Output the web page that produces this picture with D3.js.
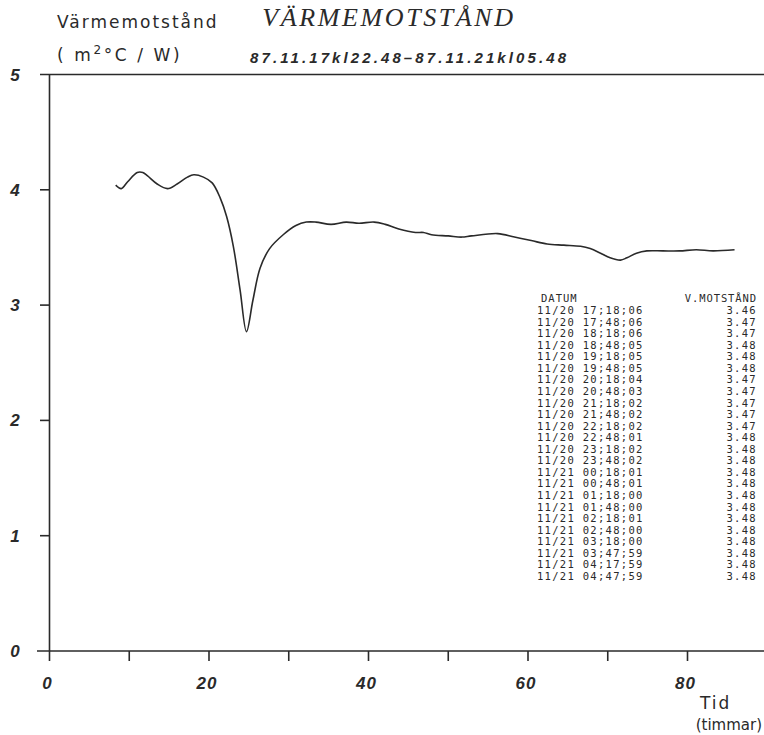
<!DOCTYPE html>
<html lang="sv">
<head>
<meta charset="UTF-8">
<title>Värmemotstånd</title>
<script src="https://d3js.org/d3.v7.min.js"></script>
<style>
    body, html { margin: 0; padding: 0; background: #fff; }
    svg { display: block; }
</style>
</head>
<body>
<div id="chart"></div>
<script>
// mätserie: tid (timmar) och värmemotstånd (m2C/W), avläst från kurvan
const hours = [8.3, 9.0, 9.8, 11.0, 11.7, 12.3, 13.5, 14.8, 16.0, 17.3, 18.1, 19.3, 20.4, 21.4, 22.2, 23.05, 23.9, 24.7,
    25.5, 26.4, 27.6, 29.3, 30.9, 32.2, 33.4, 35.3, 37.2, 38.8, 40.7, 42.1, 43.8, 45.9, 46.9, 47.9, 50.0, 51.7, 52.9,
    56.2, 58.3, 60.4, 62.4, 64.5, 66.6, 67.8, 69.1, 70.3, 71.6, 72.4, 73.6, 74.9, 76.9, 79.0, 81.1, 83.2, 85.9];
const resistance = [4.04, 4.01, 4.07, 4.15, 4.15, 4.12, 4.05, 4.01, 4.05, 4.11, 4.13, 4.11, 4.06, 3.93, 3.77, 3.51, 3.13, 2.77,
    3.04, 3.32, 3.49, 3.61, 3.69, 3.72, 3.72, 3.70, 3.72, 3.71, 3.72, 3.70, 3.66, 3.63, 3.63, 3.61, 3.60, 3.59, 3.60,
    3.62, 3.59, 3.56, 3.53, 3.52, 3.51, 3.49, 3.45, 3.41, 3.39, 3.41, 3.45, 3.47, 3.47, 3.47, 3.48, 3.47, 3.48];

// utskriven tabell
const datum = ["11/20 17;18;06", "11/20 17;48;06", "11/20 18;18;06", "11/20 18;48;05", "11/20 19;18;05",
    "11/20 19;48;05", "11/20 20;18;04", "11/20 20;48;03", "11/20 21;18;02", "11/20 21;48;02", "11/20 22;18;02",
    "11/20 22;48;01", "11/20 23;18;02", "11/20 23;48;02", "11/21 00;18;01", "11/21 00;48;01", "11/21 01;18;00",
    "11/21 01;48;00", "11/21 02;18;01", "11/21 02;48;00", "11/21 03;18;00", "11/21 03;47;59", "11/21 04;17;59",
    "11/21 04;47;59"];
const motstand = ["3.46", "3.47", "3.47", "3.48", "3.48", "3.48", "3.47", "3.47", "3.47", "3.47", "3.47",
    "3.48", "3.48", "3.48", "3.48", "3.48", "3.48", "3.48", "3.48", "3.48", "3.48", "3.48", "3.48", "3.48"];

const xTicks = d3.range(0, 100, 10);
const xLabels = [0, 20, 40, 60, 80];
const yTicks = [0, 1, 2, 3, 4, 5];

const width = 764, height = 735;
const ink = "#2a2a2a";

const svg = d3.select("#chart").append("svg")
    .attr("width", width)
    .attr("height", height);

const x = d3.scaleLinear().domain([0, 100]).range([49.5, 847]);
const y = d3.scaleLinear().domain([0, 5]).range([651, 74.5]);

// axlar
const axes = svg.append("g").attr("stroke", ink).attr("stroke-width", 1.6).attr("fill", "none");
axes.append("line").attr("x1", 37).attr("x2", width).attr("y1", y(0)).attr("y2", y(0));
axes.append("line").attr("x1", 40).attr("x2", width).attr("y1", y(5)).attr("y2", y(5));
axes.append("line").attr("x1", x(0)).attr("x2", x(0)).attr("y1", y(5)).attr("y2", y(0) + 10);

axes.selectAll(".xt").data(xTicks.filter(d => d > 0)).join("line")
    .attr("x1", d => x(d)).attr("x2", d => x(d))
    .attr("y1", y(0)).attr("y2", y(0) + 10);
axes.selectAll(".yt").data(yTicks.filter(d => d > 0 && d < 5)).join("line")
    .attr("x1", 40).attr("x2", x(0))
    .attr("y1", d => y(d)).attr("y2", d => y(d));

const tickFont = "'Liberation Sans', Arial, sans-serif";
svg.append("g").selectAll("text").data(yTicks).join("text")
    .attr("x", 15).attr("y", d => y(d) + 6)
    .attr("text-anchor", "middle")
    .attr("font-family", tickFont).attr("font-style", "italic").attr("font-weight", "bold")
    .attr("font-size", 17).attr("fill", ink)
    .text(d => d);

svg.append("g").selectAll("text").data(xLabels).join("text")
    .attr("x", d => x(d) - 2).attr("y", y(0) + 38)
    .attr("text-anchor", "middle")
    .attr("font-family", tickFont).attr("font-style", "italic").attr("font-weight", "bold")
    .attr("font-size", 17).attr("letter-spacing", 1).attr("fill", ink)
    .text(d => d);

// kurvan
const line = d3.line()
    .x((d, i) => x(hours[i]))
    .y(d => y(d))
    .curve(d3.curveCatmullRom.alpha(0.5));

svg.append("path")
    .datum(resistance)
    .attr("d", line)
    .attr("fill", "none")
    .attr("stroke", ink)
    .attr("stroke-width", 1.6);

// titlar
const plotFont = "'DejaVu Sans', sans-serif";
svg.append("text")
    .attr("x", 389).attr("y", 26)
    .attr("text-anchor", "middle")
    .attr("font-family", "'Liberation Serif', 'DejaVu Serif', serif")
    .attr("font-style", "italic").attr("font-size", 26)
    .attr("letter-spacing", 2.6).attr("fill", ink)
    .text("VÄRMEMOTSTÅND");

svg.append("text")
    .attr("x", 57).attr("y", 28)
    .attr("font-family", plotFont).attr("font-size", 17)
    .attr("letter-spacing", 2).attr("fill", ink)
    .text("Värmemotstånd");

const unit = svg.append("text")
    .attr("x", 57).attr("y", 61)
    .attr("font-family", plotFont).attr("font-size", 17)
    .attr("letter-spacing", 2.6).attr("fill", ink);
unit.append("tspan").text("( m");
unit.append("tspan").attr("dy", -7).attr("font-size", 12).text("2");
unit.append("tspan").attr("dy", 7).text("°C / W)");

svg.append("text")
    .attr("x", 250).attr("y", 63)
    .attr("font-family", tickFont).attr("font-style", "italic").attr("font-weight", "bold")
    .attr("font-size", 15).attr("letter-spacing", 3.1).attr("fill", ink)
    .text("87.11.17kl22.48–87.11.21kl05.48");

svg.append("text")
    .attr("x", 700).attr("y", 709)
    .attr("font-family", plotFont).attr("font-size", 17)
    .attr("letter-spacing", 2).attr("fill", ink)
    .text("Tid");
svg.append("text")
    .attr("x", 762).attr("y", 730)
    .attr("text-anchor", "end")
    .attr("font-family", plotFont).attr("font-size", 15)
    .attr("fill", ink)
    .text("(timmar)");

// tabell
const monoFont = "'DejaVu Sans Mono', monospace";
const rowY = d3.scalePoint().domain(d3.range(datum.length)).range([314, 580]);
const table = svg.append("g")
    .attr("font-family", monoFont).attr("font-size", 10.5).attr("fill", ink);
table.append("text").attr("x", 541).attr("y", 302).attr("letter-spacing", 1).text("DATUM");
table.append("text").attr("x", 757).attr("y", 302).attr("text-anchor", "end").attr("letter-spacing", 0.9).text("V.MOTSTÅND");
table.selectAll(".d").data(datum).join("text")
    .attr("x", 537).attr("y", (d, i) => rowY(i))
    .attr("letter-spacing", 1.3)
    .text(d => d);
table.selectAll(".m").data(motstand).join("text")
    .attr("x", 757).attr("y", (d, i) => rowY(i))
    .attr("text-anchor", "end")
    .attr("letter-spacing", 1.3)
    .text(d => d);
</script>
</body>
</html>
